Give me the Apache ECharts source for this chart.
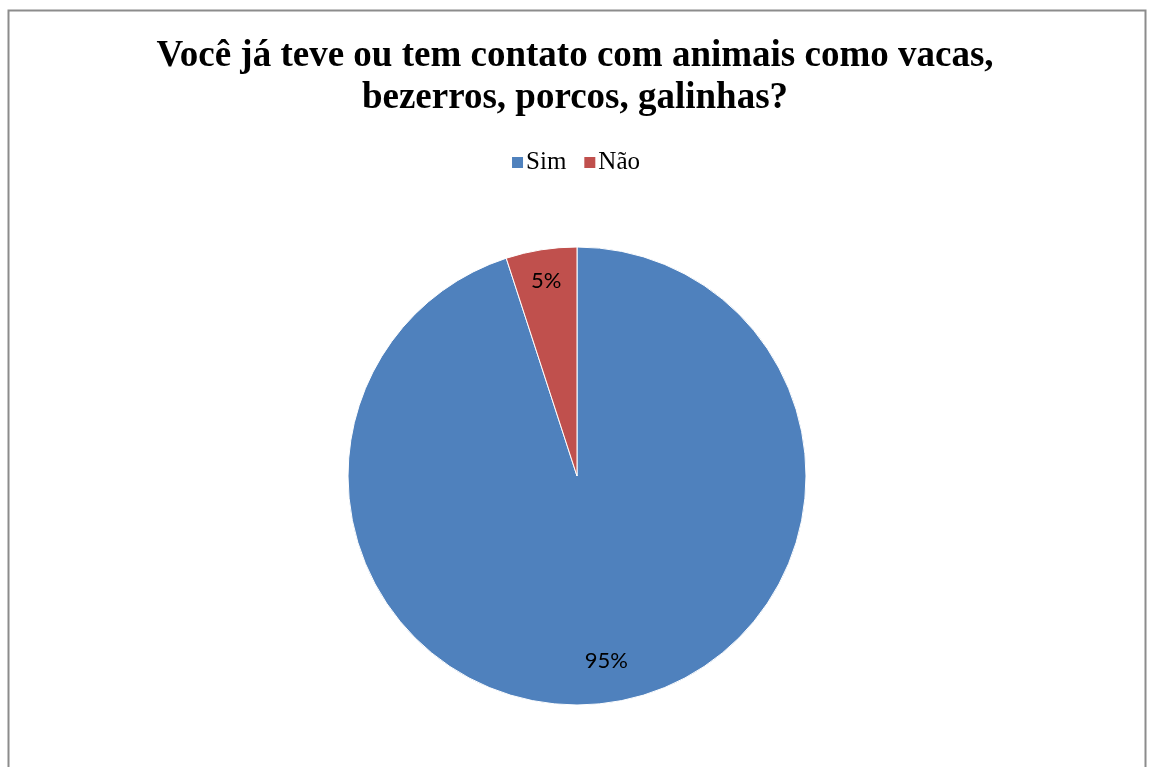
<!DOCTYPE html>
<html>
<head>
<meta charset="utf-8">
<script src="https://cdn.jsdelivr.net/npm/echarts@6/dist/echarts.min.js"></script>
<style>html,body{margin:0;padding:0;background:#fff}#c{width:1150px;height:767px}</style>
</head>
<body>
<div id="c"></div>
<script>
const titleText = 'Você já teve ou tem contato com animais como vacas,\nbezerros, porcos, galinhas?';
const categories = ['Sim', 'Não'];
const values = [95, 5];
const colors = ['#4F81BD', '#C0504D'];

const chart = echarts.init(document.getElementById('c'));
const data = categories.map((c, i) => ({ name: c, value: values[i], itemStyle: { color: colors[i] } }));
function labelSeries(showIndex, inner) {
  return {
    type: 'pie',
    center: [577, 476],
    radius: [inner, 229],
    startAngle: 90,
    clockwise: true,
    silent: true,
    data: categories.map((c, i) => ({
      name: c, value: values[i],
      itemStyle: { color: 'rgba(0,0,0,0)' },
      label: { show: i === showIndex }
    })),
    label: {
      position: 'inside',
      formatter: p => p.value + '%',
      fontFamily: 'Lato',
      fontSize: 22,
      color: '#000'
    },
    labelLine: { show: false },
    emphasis: { disabled: true }
  };
}
chart.setOption({
  animation: false,
  backgroundColor: '#fff',
  title: {
    text: titleText,
    left: 'center',
    top: 30,
    textStyle: { fontFamily: 'Liberation Serif', fontWeight: 'bold', fontSize: 37, lineHeight: 42, color: '#000' }
  },
  legend: {
    data: categories,
    top: 145,
    left: 'center',
    icon: 'rect',
    itemWidth: 13,
    itemHeight: 13,
    itemGap: 16,
    textStyle: { fontFamily: 'Liberation Serif', fontSize: 25, color: '#000', padding: [0, 0, 0, -3] }
  },
  graphic: [{
    type: 'rect', left: 6, top: 8, silent: true,
    shape: { width: 1137, height: 800 },
    style: { fill: 'none', stroke: '#8c8c8c', lineWidth: 2 }
  }],
  series: [{
    type: 'pie',
    center: [577, 476],
    radius: 229,
    startAngle: 90,
    clockwise: true,
    data: data,
    label: { show: false },
    labelLine: { show: false },
    itemStyle: { borderColor: '#fff', borderWidth: 1 },
    emphasis: { disabled: true }
  }, labelSeries(1, 160), labelSeries(0, 140)]
});
</script>
</body>
</html>
